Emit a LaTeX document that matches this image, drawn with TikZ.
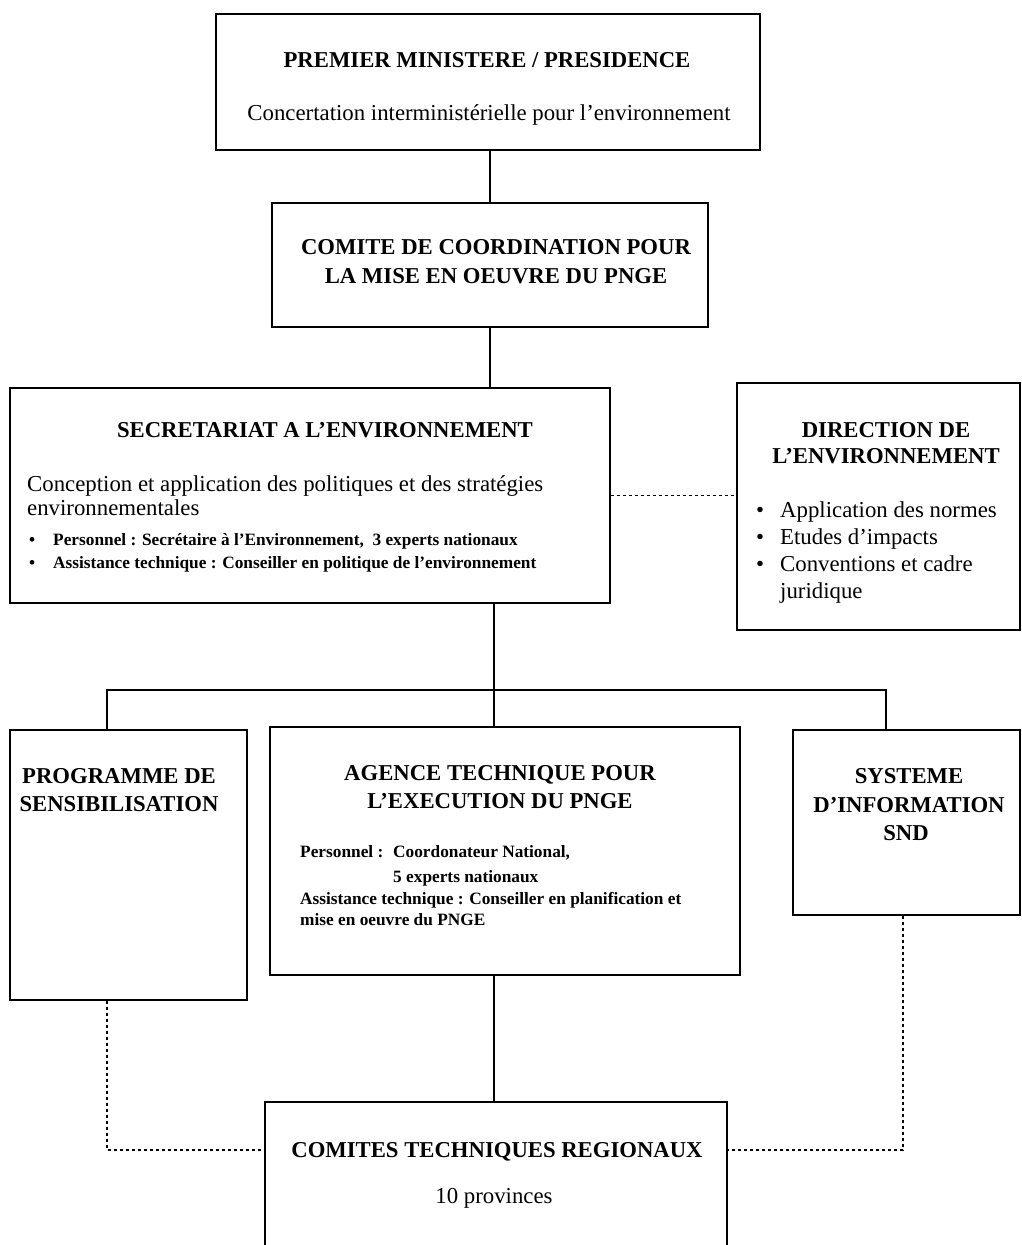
\documentclass[tikz,border=0pt]{standalone}
\usepackage{fontspec}
\setmainfont{Liberation Serif}
\begin{document}
\begin{tikzpicture}[x=1pt,y=-1pt,
 box/.style={draw, line width=1.4pt, inner sep=0pt},
 hd/.style={font=\fontsize{22.7}{27}\selectfont\bfseries, inner sep=0pt, anchor=base},
 bd/.style={font=\fontsize{22.8}{27}\selectfont, inner sep=0pt, anchor=base},
 bdl/.style={font=\fontsize{22.8}{27}\selectfont, inner sep=0pt, anchor=base west},
 sm/.style={font=\fontsize{17.3}{20}\selectfont\bfseries, inner sep=0pt, anchor=base west},
 link/.style={line width=1.3pt},
 dlink/.style={line width=1.2pt, dash pattern=on 3.5pt off 2.5pt}]
\useasboundingbox (0,0) rectangle (1022,1245);

% boxes
\node[box, minimum width=544pt, minimum height=136pt] (b1) at (488,82) {};
\node[box, minimum width=436pt, minimum height=124pt] (b2) at (490,265) {};
\node[box, minimum width=600pt, minimum height=215pt] (b3) at (310,495.5) {};
\node[box, minimum width=283pt, minimum height=247pt] (b4) at (878.5,506.5) {};
\node[box, minimum width=237pt, minimum height=270pt] (b5) at (128.5,865) {};
\node[box, minimum width=470pt, minimum height=248pt] (b6) at (505,851) {};
\node[box, minimum width=227pt, minimum height=185pt] (b7) at (906.5,822.5) {};
\node[box, minimum width=462pt, minimum height=163pt] (b8) at (496,1183.5) {};

% texts box 1
\node[hd] (t1a) at (487,67) {PREMIER MINISTERE / PRESIDENCE};
\node[bd] (t1b) at (489,120) {Concertation interministérielle pour l'environnement};
% box 2
\node[hd] (t2a) at (496,254) {COMITE DE COORDINATION POUR};
\node[hd] (t2b) at (496,283) {LA MISE EN OEUVRE DU PNGE};
% box 3
\node[hd] (t3a) at (325,437) {SECRETARIAT A L'ENVIRONNEMENT};
\node[bdl] (t3b) at (27,491) {Conception et application des politiques et des stratégies};
\node[bdl] (t3c) at (27,515) {environnementales};
\node[sm] (t3d0) at (29,545) {\textbullet};
\node[sm] (t3d) at (53,545) {Personnel : Secrétaire à l'Environnement,\ \ 3 experts nationaux};
\node[sm] (t3e0) at (29,568) {\textbullet};
\node[sm] (t3e) at (53,568) {Assistance technique : Conseiller en politique de l'environnement};
% box 4
\node[hd] (t4a) at (886,437) {DIRECTION DE};
\node[hd] (t4b) at (886,463) {L'ENVIRONNEMENT};
\node[bdl] (t4c0) at (756,517) {\textbullet};
\node[bdl] (t4c) at (780,517) {Application des normes};
\node[bdl] (t4d0) at (756,544) {\textbullet};
\node[bdl] (t4d) at (780,544) {Etudes d'impacts};
\node[bdl] (t4e0) at (756,571) {\textbullet};
\node[bdl] (t4e) at (780,571) {Conventions et cadre};
\node[bdl] (t4f) at (780,598) {juridique};
% box 5
\node[hd] (t5a) at (119,783) {PROGRAMME DE};
\node[hd] (t5b) at (119,811) {SENSIBILISATION};
% box 6
\node[hd] (t6a) at (500,780) {AGENCE TECHNIQUE POUR};
\node[hd] (t6b) at (500,808) {L'EXECUTION DU PNGE};
\node[sm] (t6c) at (300,857) {Personnel :};
\node[sm] (t6d) at (393,857) {Coordonateur National,};
\node[sm] (t6e) at (393,882) {5 experts nationaux};
\node[sm] (t6f) at (300,904) {Assistance technique : Conseiller en planification et};
\node[sm] (t6g) at (300,925) {mise en oeuvre du PNGE};
% box 7
\node[hd] (t7a) at (909,783) {SYSTEME};
\node[hd] (t7b) at (909,812) {D'INFORMATION};
\node[hd] (t7c) at (906,840) {SND};
% box 8
\node[hd] (t8a) at (497,1157) {COMITES TECHNIQUES REGIONAUX};
\node[bd] (t8b) at (494,1203) {10 provinces};

% junction coordinates
\coordinate (jm) at (494,690);
\coordinate (jl) at (107,690);
\coordinate (jr) at (886,690);
\coordinate (dl) at (265,1150);
\coordinate (dr) at (727,1150);
\coordinate (xl) at (107,0);
\coordinate (xr) at (903,0);
\coordinate (xm) at (494,0);

% connectors
\draw[link] (b2.north |- b1.south) -- (b2.north);
\draw[link] (b2.south) -- (b2.south |- b3.north);
\draw[dlink] (b3.east) -- (b4.west |- b3.east);
\draw[link] (jm |- b3.south) -- (jm);
\draw[link] (jl |- b5.north) -- (jl) -- (jr) -- (jr |- b7.north);
\draw[link] (jm) -- (jm |- b6.north);
\draw[link] (xm |- b6.south) -- (xm |- b8.north);
\draw[dlink] (xl |- b5.south) |- (dl);
\draw[dlink] (xr |- b7.south) |- (dr);
\end{tikzpicture}
\end{document}
